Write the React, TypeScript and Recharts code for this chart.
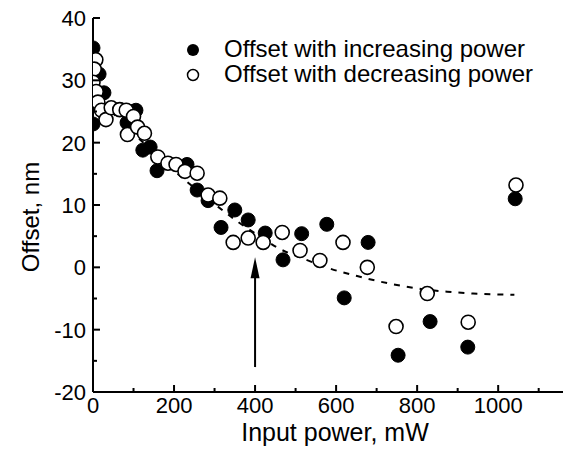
import React from 'react';
import {
  ComposedChart,
  Scatter,
  Line,
  XAxis,
  YAxis,
  ReferenceLine,
  ReferenceDot,
} from 'recharts';

// ---- data ----
const increasingSeriesName = 'Offset with increasing power';
const decreasingSeriesName = 'Offset with decreasing power';

const increasingPower = [0, 15, 27, 0, 84, 99, 106, 123, 141, 158, 232, 257, 284, 316, 350, 383, 425, 469, 515, 577, 620, 679, 753, 832, 925, 1042];
const increasingOffset = [35.2, 31, 28, 23, 23.2, 25, 25.2, 18.8, 19.3, 15.5, 16.5, 12.4, 10.7, 6.4, 9.2, 7.6, 5.5, 1.2, 5.4, 6.9, -4.9, 4, -14.1, -8.7, -12.8, 11];

const decreasingPower = [7, 3, 0, 8, 12, 21, 32, 45, 66, 82, 85, 100, 110, 127, 160, 185, 205, 227, 257, 284, 313, 346, 383, 420, 467, 511, 560, 617, 677, 748, 825, 926, 1044];
const decreasingOffset = [33.3, 31.8, 29.7, 28.2, 26.5, 25.2, 23.7, 25.6, 25.3, 25.2, 21.3, 24.2, 22.5, 21.5, 17.7, 16.7, 16.5, 15.4, 15.1, 11.6, 11.1, 4.0, 4.7, 4.0, 5.6, 2.7, 1.1, 4.0, 0, -9.5, -4.2, -8.8, 13.2];

const fitPower = [0, 100, 195, 321, 358, 420, 454, 519, 585, 652, 709, 765, 825, 874, 938, 1040];
const fitOffset = [28, 21.5, 15.8, 9.1, 7.3, 4.6, 3.2, 1.4, -0.2, -1.4, -2.3, -3.0, -3.6, -3.9, -4.2, -4.4];

const arrowPower = 400;
const arrowFrom = -16;
const arrowTip = 1.6;

const xTicks = [0, 100, 200, 300, 400, 500, 600, 700, 800, 900, 1000, 1100];
const xLabelStep = 200;
const yTicks = [-20, -15, -10, -5, 0, 5, 10, 15, 20, 25, 30, 35, 40];
const yLabelStep = 10;

const xTitle = 'Input power, mW';
const yTitle = 'Offset, nm';

const increasingData = increasingPower.map((x, i) => ({ x, y: increasingOffset[i] }));
const decreasingData = decreasingPower.map((x, i) => ({ x, y: decreasingOffset[i] }));
const fitData = fitPower.map((x, i) => ({ x, y: fitOffset[i] }));

const FONT = '"Liberation Sans", Arial, Helvetica, sans-serif';
const TICK_FONT = 22;
const TITLE_FONT = 24;
const X_TITLE_FONT = 25;
const LEGEND_FONT = 24;

const Y_TICK_MARGIN = 7;
const X_TICK_MARGIN = 5;

const YTick = (props: any) => {
  const { x, y, payload } = props;
  const v = payload.value;
  const major = v % yLabelStep === 0;
  const axisX = x + Y_TICK_MARGIN;
  return (
    <g>
      <line x1={axisX} x2={axisX + (major ? 7 : 4)} y1={y} y2={y} stroke="#000" strokeWidth={2} />
      {major && (
        <text x={x} y={y} dy="0.36em" textAnchor="end" fontFamily={FONT} fontSize={TICK_FONT} fill="#000">
          {v}
        </text>
      )}
    </g>
  );
};

const XTick = (props: any) => {
  const { x, y, payload } = props;
  const v = payload.value;
  const major = v % xLabelStep === 0;
  const axisY = y - X_TICK_MARGIN;
  return (
    <g>
      <line x1={x} x2={x} y1={axisY} y2={axisY - (major ? 7 : 4)} stroke="#000" strokeWidth={2} />
      {major && (
        <text x={x} y={y} dy="0.71em" textAnchor="middle" fontFamily={FONT} fontSize={TICK_FONT} fill="#000">
          {v}
        </text>
      )}
    </g>
  );
};

const FilledDot = (p: any) => <circle cx={p.cx} cy={p.cy} r={7} fill="#000" stroke="#000" strokeWidth={1} />;
const OpenDot = (p: any) => <circle cx={p.cx} cy={p.cy} r={7} fill="#fff" stroke="#000" strokeWidth={1.6} />;

const ArrowHead = (p: any) => (
  <path d={`M${p.cx},${p.cy} L${p.cx - 4.5},${p.cy + 21} L${p.cx + 4.5},${p.cy + 21} Z`} fill="#000" />
);

const YTitle = (props: any) => {
  const vb = props.viewBox;
  const cx = vb.x - 3;
  const cy = vb.y + vb.height / 2 + 12;
  return (
    <text x={cx} y={cy} transform={`rotate(-90 ${cx} ${cy})`} textAnchor="middle" dy="0.36em" fontFamily={FONT} fontSize={TITLE_FONT} fill="#000">
      {yTitle}
    </text>
  );
};

const XTitle = (props: any) => {
  const vb = props.viewBox;
  const cx = vb.x + vb.width / 2 + 7;
  return (
    <text x={cx} y={vb.y + 49} textAnchor="middle" fontFamily={FONT} fontSize={X_TITLE_FONT} fill="#000">
      {xTitle}
    </text>
  );
};

const LegendOverlay = () => (
  <svg width={564} height={462} style={{ position: 'absolute', left: 0, top: 0, pointerEvents: 'none' }}>
    <circle cx={193} cy={50} r={6} fill="#000" />
    <text x={224} y={57} fontFamily={FONT} fontSize={LEGEND_FONT} fill="#000">{increasingSeriesName}</text>
    <circle cx={193} cy={75} r={5.5} fill="#fff" stroke="#000" strokeWidth={1.5} />
    <text x={224} y={82} fontFamily={FONT} fontSize={LEGEND_FONT} fill="#000">{decreasingSeriesName}</text>
  </svg>
);

export default function App() {
  return (
    <div style={{ position: 'absolute', left: 0, top: 0, width: 564, height: 462, background: '#fff' }}>
      <ComposedChart width={564} height={462} margin={{ top: 18, right: 1, bottom: 40, left: 33 }}>
        <XAxis
          type="number"
          dataKey="x"
          domain={[0, 1160]}
          ticks={xTicks}
          interval={0}
          height={30}
          tickSize={0}
          tickMargin={X_TICK_MARGIN}
          tickLine={false}
          tick={<XTick />}
          axisLine={{ stroke: '#000', strokeWidth: 2 }}
          allowDataOverflow
          label={<XTitle />}
        />
        <YAxis
          type="number"
          dataKey="y"
          domain={[-20, 40]}
          ticks={yTicks}
          interval={0}
          width={60}
          tickSize={0}
          tickMargin={Y_TICK_MARGIN}
          tickLine={false}
          tick={<YTick />}
          axisLine={{ stroke: '#000', strokeWidth: 2 }}
          allowDataOverflow
          label={<YTitle />}
        />
        <Line
          data={fitData}
          dataKey="y"
          type="monotone"
          stroke="#000"
          strokeWidth={2}
          strokeDasharray="6 7"
          dot={false}
          activeDot={false}
          legendType="none"
          isAnimationActive={false}
        />
        <Scatter name={increasingSeriesName} data={increasingData} dataKey="y" shape={FilledDot} isAnimationActive={false} />
        <Scatter name={decreasingSeriesName} data={decreasingData} dataKey="y" shape={OpenDot} isAnimationActive={false} />
        <ReferenceLine
          segment={[{ x: arrowPower, y: arrowFrom }, { x: arrowPower, y: arrowTip - 3 }]}
          stroke="#000"
          strokeWidth={2}
        />
        <ReferenceDot x={arrowPower} y={arrowTip} shape={ArrowHead} />
      </ComposedChart>
      <LegendOverlay />
    </div>
  );
}
